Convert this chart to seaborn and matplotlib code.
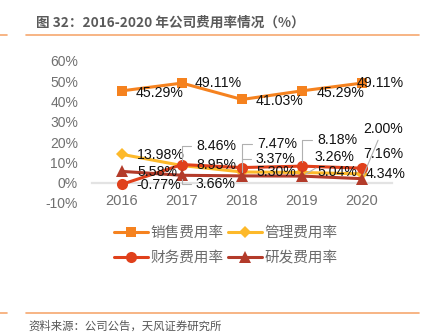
import matplotlib
matplotlib.use("Agg")
import matplotlib.pyplot as plt
from matplotlib.lines import Line2D
import seaborn as sns
import pandas as pd

years = [2016, 2017, 2018, 2019, 2020]
sales = [45.29, 49.11, 41.03, 45.29, 49.11]
admin = [13.98, 8.46, 5.30, 5.04, 4.34]
finance = [-0.77, 8.95, 7.47, 8.18, 7.16]
rnd = [5.58, 3.66, 3.37, 3.26, 2.00]
series_names = ["销售费用率", "管理费用率", "财务费用率", "研发费用率"]
y_ticks = [-10, 0, 10, 20, 30, 40, 50, 60]

sns.set_theme(style="white")
plt.rcParams['font.family'] = ['Liberation Sans', 'Noto Sans CJK SC', 'DejaVu Sans']

colors = ["#F5821F", "#FDB92A", "#E0401B", "#B33B2A"]
markers = ["s", "D", "o", "^"]
msizes = [7.5, 6.0, 8.0, 8.0]

# label offsets in pixels (dx, dy up) and leader style
label_offsets = {
    0: [(14, -2, None), (13, 0, None), (14, -2, None), (15, -2, None), (-5, 0, None)],
    1: [(15, -1, None), (14, 20, "angle"), (14, 0, None), (15, 0, None), (4, 0, None)],
    2: [(14, -1, None), (14, 0, None), (15, 24, "angle"), (15, 26, "angle"), (1, 14, None)],
    3: [(15, -1, None), (14, -9, "angle"), (14, 17, "angle"), (13, 19, "arc3"), (1, 50, "arc3")],
}

df = pd.DataFrame({
    "year": years * 4,
    "value": sales + admin + finance + rnd,
    "series": [n for n in series_names for _ in years],
})

fig = plt.figure(figsize=(4.28, 3.35), dpi=100)
ax = fig.add_axes([92 / 428, 1 - 203 / 335, 300 / 428, 142 / 335])

for i, name in enumerate(series_names):
    sub = df[df["series"] == name]
    sns.lineplot(data=sub, x="year", y="value", ax=ax, color=colors[i],
                 marker=markers[i], markersize=msizes[i], markeredgewidth=0,
                 linewidth=2.2, label=name, zorder=3 + i)

all_vals = [sales, admin, finance, rnd]
for i, vals in enumerate(all_vals):
    for j, (yr, v) in enumerate(zip(years, vals)):
        dx, dy, leader = label_offsets[i][j]
        kw = {}
        if leader == "angle":
            kw["arrowprops"] = dict(arrowstyle="-", color="#b0b0b0", lw=0.8,
                                    connectionstyle="angle,angleA=0,angleB=90,rad=0",
                                    shrinkA=1, shrinkB=3)
        elif leader == "arc3":
            kw["arrowprops"] = dict(arrowstyle="-", color="#b0b0b0", lw=0.8,
                                    connectionstyle="arc3", shrinkA=1, shrinkB=3)
        ax.annotate(f"{v:.2f}%", xy=(yr, v), xytext=(dx, dy),
                    textcoords="offset pixels", ha="left", va="center",
                    fontsize=10.2, color="#111111", zorder=10,
                    family=['Liberation Sans', 'DejaVu Sans'], **kw)

ax.set_xlim(2015.5, 2020.5)
ax.set_ylim(-10, 60)
ax.set_yticks(y_ticks)
ax.set_yticklabels([f"{t}%" for t in y_ticks])
ax.set_xticks(years)
ax.set_xticklabels([str(y) for y in years])
ax.set_xlabel("")
ax.set_ylabel("")
for s in ["top", "right", "left"]:
    ax.spines[s].set_visible(False)
ax.spines["bottom"].set_position(("data", 0))
ax.spines["bottom"].set_color("#e3e3e3")
ax.spines["bottom"].set_linewidth(1.6)
ax.spines["bottom"].set_zorder(1)
ax.tick_params(axis="x", length=0, pad=8, labelsize=10.5, labelcolor="#707070")
ax.tick_params(axis="y", length=0, pad=10, labelsize=10, labelcolor="#707070")
for lbl in ax.get_xticklabels() + ax.get_yticklabels():
    lbl.set_family(['Liberation Sans', 'DejaVu Sans'])
ax.grid(False)
ax.set_facecolor("none")

handles, labels = ax.get_legend_handles_labels()
order = [0, 2, 1, 3]
ax.legend([handles[k] for k in order], [labels[k] for k in order], ncol=2,
          frameon=False, loc="upper left",
          bbox_to_anchor=(114 / 428, 1 - 226 / 335), bbox_transform=fig.transFigure,
          borderaxespad=0, borderpad=0, handlelength=2.3, handletextpad=0.2,
          columnspacing=0.3, labelspacing=0.75,
          prop={"family": "Noto Sans CJK SC", "size": 10.5}, labelcolor="#6a6a6a")

# title and decorative lines
fig.text(36 / 428, 1 - 23 / 335, "图 32：2016-2020 年公司费用率情况（%）",
         ha="left", va="center", fontsize=9.8, color="#5a5a5a", fontweight="bold",
         family=['Noto Sans CJK SC', 'DejaVu Sans'])
line_color = "#F6A870"
for yy in [35, 313]:
    fig.add_artist(Line2D([26 / 428, 419 / 428], [1 - yy / 335] * 2, color=line_color,
                          lw=1.2, transform=fig.transFigure))
    fig.add_artist(Line2D([0, 7 / 428], [1 - yy / 335] * 2, color=line_color,
                          lw=1.2, transform=fig.transFigure))
fig.text(28 / 428, 1 - 326 / 335, "资料来源：公司公告，天风证券研究所",
         ha="left", va="center", fontsize=8.2, color="#555555",
         family=['Noto Sans CJK SC', 'DejaVu Sans'])

fig.savefig("out.png", dpi=100, facecolor="white")
